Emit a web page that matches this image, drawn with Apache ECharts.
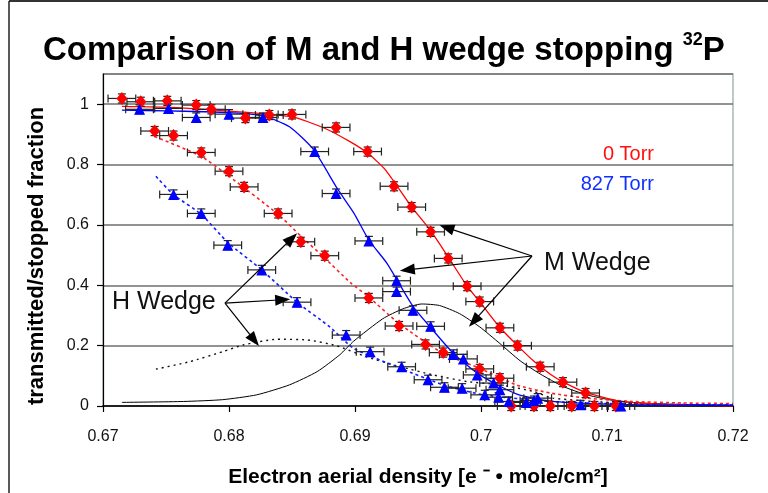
<!DOCTYPE html>
<html>
<head>
<meta charset="utf-8">
<script src="https://cdn.jsdelivr.net/npm/echarts@6/dist/echarts.min.js"></script>
<style>
  html, body { margin: 0; padding: 0; background: #fff; }
  #chart { width: 768px; height: 493px; }
</style>
</head>
<body>
<div id="chart"></div>
<script>
// Axis ticks
const xTicks = [0.67, 0.68, 0.69, 0.70, 0.71, 0.72];
const yTicks = [0, 0.2, 0.4, 0.6, 0.8, 1];

// M wedge, 0 Torr (transmitted fraction)
const mRedX = [0.6715, 0.6730, 0.6751, 0.6774, 0.6786, 0.6813, 0.6832, 0.6850, 0.6885, 0.6910, 0.6931, 0.6945, 0.6960, 0.6974, 0.6989, 0.6999, 0.7015, 0.7029, 0.7047, 0.7065, 0.7083];
const mRedY = [1.019, 1.008, 1.011, 0.997, 0.983, 0.954, 0.964, 0.966, 0.923, 0.843, 0.728, 0.659, 0.577, 0.489, 0.397, 0.346, 0.259, 0.200, 0.130, 0.079, 0.043];

// M wedge, 827 Torr
const mBlueX = [0.6729, 0.6752, 0.6774, 0.6800, 0.6827, 0.6868, 0.6885, 0.6911, 0.6933, 0.6933, 0.6946, 0.6960, 0.6978, 0.6986, 0.6997, 0.7010, 0.7015, 0.7022, 0.7045, 0.7079, 0.7111];
const mBlueY = [0.983, 0.986, 0.956, 0.967, 0.956, 0.843, 0.704, 0.547, 0.415, 0.379, 0.317, 0.264, 0.171, 0.156, 0.103, 0.076, 0.054, 0.015, 0.026, 0.004, 0.000];

// H wedge, 0 Torr
const hRedX = [0.6741, 0.6756, 0.6778, 0.6800, 0.6812, 0.6839, 0.6857, 0.6876, 0.6911, 0.6935, 0.6956, 0.6970, 0.6999, 0.7015, 0.7024, 0.7042, 0.7055, 0.7072, 0.7090, 0.7107];
const hRedY = [0.911, 0.896, 0.840, 0.778, 0.726, 0.638, 0.544, 0.498, 0.358, 0.265, 0.204, 0.177, 0.123, 0.092, 0.000, 0.000, 0.000, 0.000, 0.000, 0.000];

// H wedge, 827 Torr
const hBlueX = [0.6756, 0.6778, 0.6799, 0.6826, 0.6854, 0.6893, 0.6912, 0.6937, 0.6958, 0.6971, 0.6985, 0.7003, 0.7014, 0.7036, 0.7042];
const hBlueY = [0.701, 0.638, 0.533, 0.451, 0.344, 0.235, 0.180, 0.130, 0.087, 0.062, 0.059, 0.037, 0.029, 0.012, 0.018];

// Fitted transmission curves
const mRedFitX = [0.6715, 0.675, 0.680, 0.685, 0.6875, 0.6896, 0.6910, 0.6924, 0.6944, 0.6960, 0.6973, 0.6989, 0.7000, 0.7015, 0.7029, 0.7042, 0.7055, 0.7065, 0.7083, 0.711, 0.714, 0.717, 0.720];
const mRedFitY = [0.993, 0.990, 0.977, 0.958, 0.922, 0.876, 0.838, 0.783, 0.665, 0.581, 0.500, 0.397, 0.340, 0.260, 0.200, 0.148, 0.105, 0.080, 0.045, 0.016, 0.006, 0.002, 0.000];

const mBlueFitX = [0.6715, 0.675, 0.678, 0.680, 0.6827, 0.6848, 0.6867, 0.6886, 0.6899, 0.6911, 0.6925, 0.6933, 0.6946, 0.6960, 0.6978, 0.6999, 0.7028, 0.7055, 0.710, 0.715, 0.720];
const mBlueFitY = [0.980, 0.978, 0.975, 0.972, 0.962, 0.925, 0.850, 0.720, 0.640, 0.550, 0.475, 0.420, 0.330, 0.260, 0.175, 0.103, 0.040, 0.016, 0.006, 0.003, 0.002];

const hRedFitX = [0.6741, 0.6778, 0.6800, 0.6839, 0.6857, 0.6876, 0.6896, 0.6911, 0.6935, 0.6970, 0.6999, 0.7028, 0.7055, 0.7084, 0.712, 0.716, 0.720];
const hRedFitY = [0.893, 0.827, 0.761, 0.635, 0.563, 0.490, 0.410, 0.361, 0.273, 0.174, 0.125, 0.070, 0.043, 0.026, 0.015, 0.010, 0.008];

const hBlueFitX = [0.6742, 0.6756, 0.6778, 0.6799, 0.6826, 0.6854, 0.6880, 0.6899, 0.6936, 0.6970, 0.7002, 0.7055, 0.710, 0.715, 0.720];
const hBlueFitY = [0.761, 0.700, 0.635, 0.542, 0.451, 0.344, 0.262, 0.191, 0.125, 0.070, 0.037, 0.015, 0.008, 0.005, 0.003];

// Stopping distributions
const mStopX = [0.6715, 0.6764, 0.6795, 0.6822, 0.6848, 0.6870, 0.6888, 0.6899, 0.6922, 0.6938, 0.6953, 0.6967, 0.6983, 0.6999, 0.7015, 0.7031, 0.7047, 0.7065, 0.7084, 0.711, 0.715, 0.720];
const mStopY = [0.012, 0.015, 0.021, 0.037, 0.070, 0.114, 0.170, 0.215, 0.289, 0.322, 0.338, 0.333, 0.306, 0.262, 0.207, 0.150, 0.106, 0.065, 0.037, 0.015, 0.006, 0.003];

const hStopX = [0.6742, 0.6769, 0.6795, 0.6811, 0.6838, 0.6862, 0.6885, 0.6909, 0.6936, 0.6962, 0.6989, 0.7015, 0.7042, 0.7057, 0.711, 0.715, 0.720];
const hStopY = [0.122, 0.147, 0.180, 0.202, 0.221, 0.219, 0.200, 0.163, 0.130, 0.103, 0.081, 0.070, 0.048, 0.026, 0.010, 0.005, 0.003];

// Measurement uncertainties
const xErr = 0.0011;
const yErr = 0.015;

// Annotation arrows [from, to] in data units
const mWedgeArrows = [
  [[0.70405, 0.497], [0.69727, 0.591]],
  [[0.70405, 0.497], [0.69415, 0.451]],
  [[0.70405, 0.497], [0.69944, 0.281]]
];
const hWedgeArrows = [
  [[0.67968, 0.341], [0.68498, 0.555]],
  [[0.67968, 0.341], [0.68426, 0.352]],
  [[0.67968, 0.341], [0.68201, 0.218]]
];

const FONT = 'Liberation Sans';
const zip = (xs, ys) => xs.map((x, i) => [x, ys[i]]);

function fitLine(xs, ys, color, dash, width) {
  return {
    type: 'line',
    data: zip(xs, ys),
    showSymbol: false,
    symbol: 'none',
    smooth: 0.2,
    z: 2,
    silent: true,
    lineStyle: { color: color, width: width, type: dash || 'solid' }
  };
}

function errorBars(xs, ys) {
  return {
    type: 'custom',
    data: zip(xs, ys),
    encode: { x: 0, y: 1 },
    z: 3,
    silent: true,
    renderItem: function (params, api) {
      const x = api.value(0), y = api.value(1);
      const l = api.coord([x - xErr, y]);
      const r = api.coord([x + xErr, y]);
      const t = api.coord([x, y + yErr]);
      const b = api.coord([x, y - yErr]);
      const cap = 4;
      const style = { stroke: '#222', lineWidth: 1.2 };
      const seg = (x1, y1, x2, y2) => ({ type: 'line', shape: { x1, y1, x2, y2 }, style });
      return {
        type: 'group',
        children: [
          seg(l[0], l[1], r[0], r[1]),
          seg(l[0], l[1] - cap, l[0], l[1] + cap),
          seg(r[0], r[1] - cap, r[0], r[1] + cap),
          seg(t[0], t[1], b[0], b[1]),
          seg(t[0] - cap, t[1], t[0] + cap, t[1]),
          seg(b[0] - cap, b[1], b[0] + cap, b[1])
        ]
      };
    }
  };
}

function markers(xs, ys, color, symbol, size) {
  return {
    type: 'scatter',
    data: zip(xs, ys),
    symbol: symbol,
    symbolSize: size,
    z: 4,
    silent: true,
    itemStyle: { color: color, opacity: 1 }
  };
}

function arrowSeries(list) {
  return {
    type: 'line',
    data: [],
    silent: true,
    z: 5,
    markLine: {
      silent: true,
      animation: false,
      symbol: ['none', 'triangle'],
      symbolSize: [11, 15],
      label: { show: false },
      lineStyle: { color: '#000', width: 1.2, type: 'solid' },
      emphasis: { disabled: true },
      data: list.map(a => [{ coord: a[0] }, { coord: a[1] }])
    }
  };
}

const chart = echarts.init(document.getElementById('chart'), null, { renderer: 'canvas' });

chart.setOption({
  animation: false,
  backgroundColor: '#fff',
  title: {
    left: 38,
    top: 26,
    text: '{a|Comparison of M and H wedge stopping }{s|32}{a|P}',
    textStyle: {
      rich: {
        a: { fontFamily: FONT, fontWeight: 'bold', fontSize: 33, color: '#000', lineHeight: 40 },
        s: { fontFamily: FONT, fontWeight: 'bold', fontSize: 18, color: '#000', lineHeight: 34, verticalAlign: 'top' }
      }
    }
  },
  grid: {
    left: 103, right: 35, top: 74, bottom: 85,
    show: true, borderColor: '#a9b9b9', borderWidth: 1.5, backgroundColor: '#fff'
  },
  xAxis: {
    type: 'value',
    min: 0.67, max: 0.72, interval: 0.01,
    axisLine: { lineStyle: { color: '#000', width: 1.5 } },
    axisTick: { show: true, length: 6, lineStyle: { color: '#000', width: 1.2 } },
    axisLabel: {
      fontFamily: FONT, fontSize: 16, color: '#111', margin: 23,
      formatter: v => {
        const t = xTicks.find(k => Math.abs(k - v) < 1e-6);
        return t === undefined ? '' : String(t);
      }
    },
    splitLine: { show: false },
    name: 'Electron aerial density [e \u207B \u2022 mole/cm\u00B2]',
    nameLocation: 'middle',
    nameGap: 61,
    nameTextStyle: { fontFamily: FONT, fontWeight: 'bold', fontSize: 21, color: '#000' }
  },
  yAxis: {
    type: 'value',
    min: 0, max: 1.1, interval: 0.2,
    axisLine: { show: true, lineStyle: { color: '#000', width: 1.2 } },
    axisTick: { show: true, length: 6, lineStyle: { color: '#000', width: 1.2 } },
    axisLabel: {
      fontFamily: FONT, fontSize: 16, color: '#111', margin: 14,
      showMaxLabel: false,
      formatter: v => {
        const t = yTicks.find(k => Math.abs(k - v) < 1e-6);
        return t === undefined ? '' : String(t);
      }
    },
    splitLine: { show: true, lineStyle: { color: '#6e6e6e', width: 1.6 } },
    name: 'transmitted/stopped fraction',
    nameLocation: 'middle',
    nameGap: 55,
    nameRotate: 90,
    nameTextStyle: { fontFamily: FONT, fontWeight: 'bold', fontSize: 22, color: '#000', padding: [0, 32, 0, 0] }
  },
  graphic: [
    { type: 'line', shape: { x1: 9, y1: 1, x2: 768, y2: 1 }, style: { stroke: '#333', lineWidth: 2 }, silent: true },
    { type: 'line', shape: { x1: 9, y1: 1, x2: 9, y2: 493 }, style: { stroke: '#222', lineWidth: 1.5 }, silent: true },
    { type: 'text', right: 114, top: 144, style: { text: '0 Torr', fill: '#ff1010', font: '20px "' + FONT + '"' }, silent: true },
    { type: 'text', right: 114, top: 174, style: { text: '827 Torr', fill: '#1030ff', font: '20px "' + FONT + '"' }, silent: true },
    { type: 'text', left: 544, top: 251, style: { text: 'M Wedge', fill: '#111', font: '25px "' + FONT + '"' }, silent: true },
    { type: 'text', left: 112, top: 290, style: { text: 'H Wedge', fill: '#111', font: '25px "' + FONT + '"' }, silent: true }
  ],
  series: [
    fitLine(mStopX, mStopY, '#000', null, 1),
    fitLine(hStopX, hStopY, '#111', [2, 4], 1.4),
    fitLine(hRedFitX, hRedFitY, '#ff2020', [3, 3], 1.6),
    fitLine(hBlueFitX, hBlueFitY, '#1020ff', [3, 3], 1.6),
    fitLine(mRedFitX, mRedFitY, '#ff0000', null, 1.3),
    fitLine(mBlueFitX, mBlueFitY, '#0000ff', null, 1.3),
    errorBars(hRedX, hRedY),
    errorBars(hBlueX, hBlueY),
    errorBars(mRedX, mRedY),
    errorBars(mBlueX, mBlueY),
    markers(hRedX, hRedY, '#ff0000', 'diamond', [11, 13]),
    markers(hBlueX, hBlueY, '#0000ff', 'triangle', [11, 11]),
    markers(mRedX, mRedY, '#ff0000', 'diamond', [11, 13]),
    markers(mBlueX, mBlueY, '#0000ff', 'triangle', [11, 11]),
    arrowSeries(mWedgeArrows),
    arrowSeries(hWedgeArrows)
  ]
});
</script>
</body>
</html>
